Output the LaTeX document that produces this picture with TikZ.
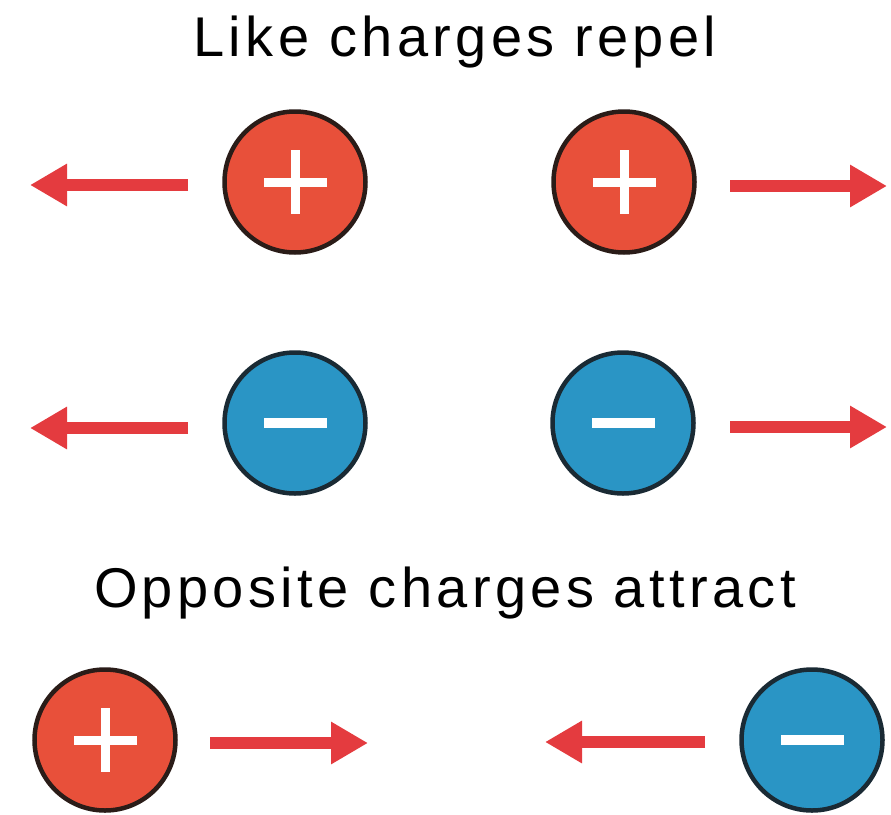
\documentclass[tikz,border=0pt]{standalone}
\usepackage{fontspec}
\setmainfont{Liberation Sans}[LetterSpace=7.8]
\usetikzlibrary{arrows.meta}

\definecolor{posred}{HTML}{E8503A}
\definecolor{negblue}{HTML}{2A95C5}
\definecolor{arrowred}{HTML}{E43B3F}
\definecolor{posrim}{HTML}{2A1C18}
\definecolor{negrim}{HTML}{1A2A34}

\tikzset{
  charge/.style={circle, minimum size=141pt, inner sep=0pt, line width=4.5pt},
  plusmark/.style={path picture={
      \fill[white] ([xshift=-31.5pt,yshift=-4.5pt]path picture bounding box.center) rectangle ++(63pt,9pt);
      \fill[white] ([xshift=-4.5pt,yshift=-32pt]path picture bounding box.center) rectangle ++(9pt,64pt);}},
  minusmark/.style={path picture={
      \fill[white] ([xshift=-31.5pt,yshift=-5pt]path picture bounding box.center) rectangle ++(63pt,10pt);}},
  poscharge/.style={charge, draw=posrim, fill=posred, plusmark},
  negcharge/.style={charge, draw=negrim, fill=negblue, minusmark},
  force/.style={draw=arrowred, line width=12.5pt, -{Triangle[length=37pt,width=40pt]}},
  caption/.style={font=\fontsize{56}{60}\selectfont, anchor=base, inner sep=0pt}
}

\begin{document}
\begin{tikzpicture}[x=1pt, y=-1pt]
  \useasboundingbox (0,0) rectangle (891,814);

  % like charges
  \node[caption] (t1) at (455,56) {Like charges repel};
  \node[poscharge] (p1) at (295,182) {};
  \node[poscharge] (p2) at (624,182) {};
  \node[negcharge] (n1) at (295,423) {};
  \node[negcharge] (n2) at (623,423) {};

  \coordinate (p1s) at (188,185);  \coordinate (p1e) at (30,185);
  \coordinate (p2s) at (730,186);  \coordinate (p2e) at (887,186);
  \coordinate (n1s) at (188,428);  \coordinate (n1e) at (30,428);
  \coordinate (n2s) at (730,427);  \coordinate (n2e) at (887,427);
  \draw[force] (p1s) -- (p1e);
  \draw[force] (p2s) -- (p2e);
  \draw[force] (n1s) -- (n1e);
  \draw[force] (n2s) -- (n2e);

  % opposite charges
  \node[caption] (t2) at (445,607) {Opposite charges attract};
  \node[poscharge] (p3) at (105,740) {};
  \node[negcharge] (n3) at (812,740) {};

  \coordinate (p3s) at (210,743);  \coordinate (p3e) at (368,743);
  \coordinate (n3s) at (705,742);  \coordinate (n3e) at (545,742);
  \draw[force] (p3s) -- (p3e);
  \draw[force] (n3s) -- (n3e);
\end{tikzpicture}
\end{document}
